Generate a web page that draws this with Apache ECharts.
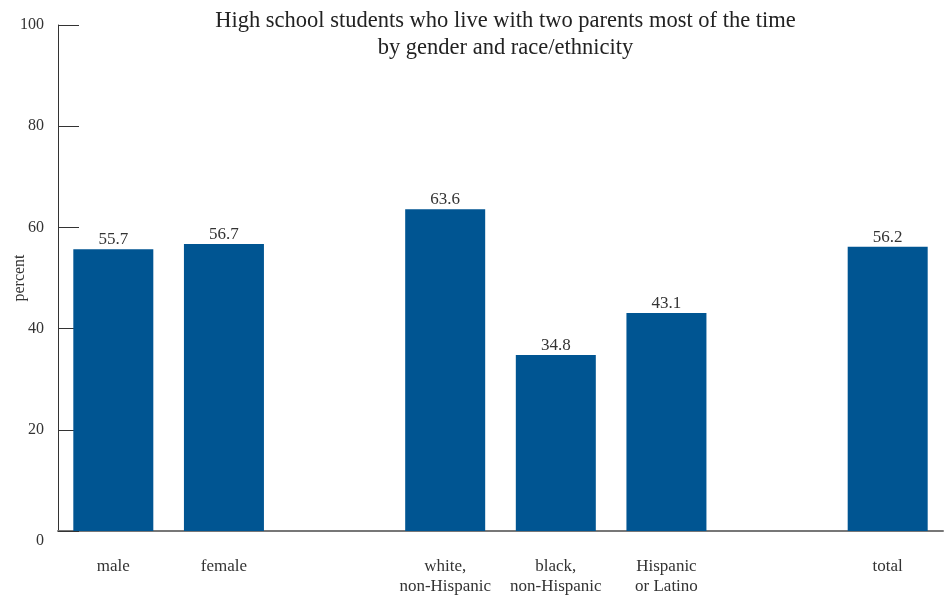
<!DOCTYPE html>
<html><head><meta charset="utf-8">
<script src="https://cdn.jsdelivr.net/npm/echarts@6/dist/echarts.min.js"></script>
<style>html,body{margin:0;padding:0;background:#fff}#c{width:948px;height:598px}</style>
</head><body><div id="c"></div>
<script>
const categories = ['male', 'female', '', 'white,\nnon-Hispanic', 'black,\nnon-Hispanic', 'Hispanic\nor Latino', '', 'total'];
const values = [55.7, 56.7, '-', 63.6, 34.8, 43.1, '-', 56.2];
const yTicks = [0, 20, 40, 60, 80, 100];
const FONT = '"Liberation Serif", "DejaVu Serif", serif';

const chart = echarts.init(document.getElementById('c'), null, {renderer: 'canvas'});
chart.setOption({
  animation: false,
  backgroundColor: '#fff',
  title: {
    text: 'High school students who live with two parents most of the time\nby gender and race/ethnicity',
    left: 500.5, textAlign: 'center', top: 3,
    textStyle: {fontFamily: FONT, fontWeight: 'normal', fontSize: 22.5, color: '#222', lineHeight: 27}
  },
  grid: {left: 58, right: 5, top: 25, bottom: 67, containLabel: false, outerBoundsMode: 'none'},
  xAxis: {
    type: 'category', data: categories,
    axisLine: {lineStyle: {color: '#777', width: 2}},
    axisTick: {show: false},
    axisLabel: {fontFamily: FONT, fontSize: 17, color: '#333', margin: 26, lineHeight: 20, interval: 0}
  },
  yAxis: {
    type: 'value', min: yTicks[0], max: yTicks[yTicks.length - 1], interval: 20,
    name: 'percent', nameLocation: 'middle', nameGap: 30, nameRotate: 90, nameMoveOverlap: false,
    nameTextStyle: {fontFamily: FONT, fontSize: 16, color: '#333'},
    axisLine: {show: true, lineStyle: {color: '#333', width: 1}},
    axisTick: {show: true, inside: true, length: 21, lineStyle: {color: '#333'}},
    splitLine: {show: false},
    axisLabel: {
      fontFamily: FONT, fontSize: 16, color: '#333', margin: 14,
      formatter: v => v === 0 ? '{z|0}' : String(v),
      rich: {z: {fontFamily: FONT, fontSize: 16, color: '#333', padding: [20, 0, 0, 0]}}
    }
  },
  series: [{
    type: 'bar', data: values, barWidth: 80,
    itemStyle: {color: '#005592'},
    label: {show: true, position: 'top', distance: 1, fontFamily: FONT, fontSize: 17, color: '#333',
      formatter: p => p.value.toFixed(1)}
  }]
});
</script></body></html>
